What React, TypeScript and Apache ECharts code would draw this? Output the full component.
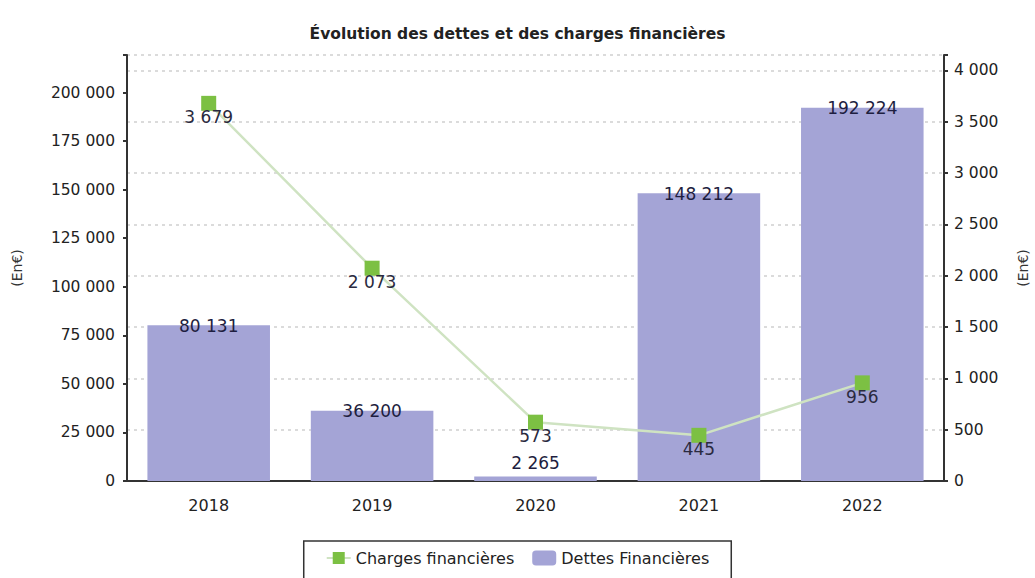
import React, { useEffect, useRef } from "react";
import * as echarts from "echarts";

const title = "Évolution des dettes et des charges financières";
const categories = ["2018", "2019", "2020", "2021", "2022"];
const dettes = [80131, 36200, 2265, 148212, 192224];
const charges = [3679, 2073, 573, 445, 956];
const leftTicks = [0, 25000, 50000, 75000, 100000, 125000, 150000, 175000, 200000];
const rightTicks = [0, 500, 1000, 1500, 2000, 2500, 3000, 3500, 4000];

const fmt = (v: number) => String(v).replace(/\B(?=(\d{3})+(?!\d))/g, " ");
const FONT = "DejaVu Sans";

export default function App() {
  const ref = useRef<HTMLDivElement>(null);
  useEffect(() => {
    const chart = echarts.init(ref.current!, null, { renderer: "svg" });
    const rightMax = 4150;
    const leftMax = rightMax * 52.85;
    chart.setOption({
      animation: false,
      textStyle: { fontFamily: FONT },
      title: {
        text: title,
        left: "center",
        top: 21,
        textStyle: { fontSize: 15.5, fontWeight: "bold", color: "#222", fontFamily: FONT },
      },
      legend: {
        top: 541,
        left: "center",
        borderColor: "#333",
        borderWidth: 1.5,
        padding: [9, 22, 14, 22],
        itemWidth: 24,
        itemHeight: 15,
        itemGap: 18,
        textStyle: { fontSize: 16, color: "#222", fontFamily: FONT },
        data: ["Charges financières", "Dettes Financières"],
      },
      grid: { left: 127, right: 91, top: 55, bottom: 97, outerBoundsMode: "none" },
      xAxis: {
        type: "category",
        data: categories,
        axisLine: { lineStyle: { color: "#333", width: 2 } },
        axisTick: { show: false },
        axisLabel: { fontSize: 16, color: "#222", margin: 16, fontFamily: FONT },
      },
      yAxis: [
        {
          type: "value",
          min: 0,
          max: leftMax,
          interval: 25000,
          name: "(En€)",
          nameLocation: "middle",
          nameGap: 103,
          nameTextStyle: { fontSize: 14, color: "#333", fontFamily: FONT },
          axisLine: { show: true, lineStyle: { color: "#333", width: 2 } },
          axisTick: { show: true, length: 4, lineStyle: { color: "#333", width: 2 } },
          axisLabel: {
            fontSize: 15.5,
            color: "#222",
            margin: 12,
            fontFamily: FONT,
            formatter: (v: number) => (leftTicks.includes(v) ? fmt(v) : ""),
          },
          splitLine: { show: false },
        },
        {
          type: "value",
          min: 0,
          max: rightMax,
          interval: 500,
          name: "(En€)",
          nameLocation: "middle",
          nameGap: 72,
          nameTextStyle: { fontSize: 14, color: "#333", fontFamily: FONT },
          axisLine: { show: true, lineStyle: { color: "#333", width: 2 } },
          axisTick: { show: true, length: 4, lineStyle: { color: "#333", width: 2 } },
          axisLabel: {
            fontSize: 15.5,
            color: "#222",
            margin: 10,
            fontFamily: FONT,
            formatter: (v: number) => (rightTicks.includes(v) ? fmt(v) : ""),
          },
          splitLine: {
            show: true,
            lineStyle: { color: "#cfcfcf", type: [3, 4], width: 1.5 },
          },
        },
      ],
      series: [
        {
          name: "Dettes Financières",
          type: "bar",
          yAxisIndex: 0,
          barWidth: "75%",
          itemStyle: { color: "#a4a4d6" },
          data: dettes.map((v, i) =>
            i === 2 ? { value: v, label: { distance: 5 } } : { value: v }
          ),
          label: {
            show: true,
            position: "top",
            distance: -9,
            fontSize: 17,
            color: "#1e1e40",
            fontFamily: FONT,
            formatter: (p: any) => fmt(p.value),
          },
          z: 1,
        },
        {
          name: "Charges financières",
          type: "line",
          yAxisIndex: 1,
          symbol: "rect",
          symbolSize: 15,
          itemStyle: { color: "#7cc043" },
          lineStyle: { color: "#cfe3c2", width: 2.5 },
          data: charges,
          label: {
            show: true,
            position: "bottom",
            distance: -2,
            fontSize: 17,
            color: "#2a2a40",
            fontFamily: FONT,
            formatter: (p: any) => fmt(p.value),
          },
          z: 3,
        },
      ],
    });
    return () => chart.dispose();
  }, []);
  return (
    <div
      ref={ref}
      style={{ position: "fixed", left: 0, top: 0, width: 1035, height: 578, background: "#fff" }}
    />
  );
}
